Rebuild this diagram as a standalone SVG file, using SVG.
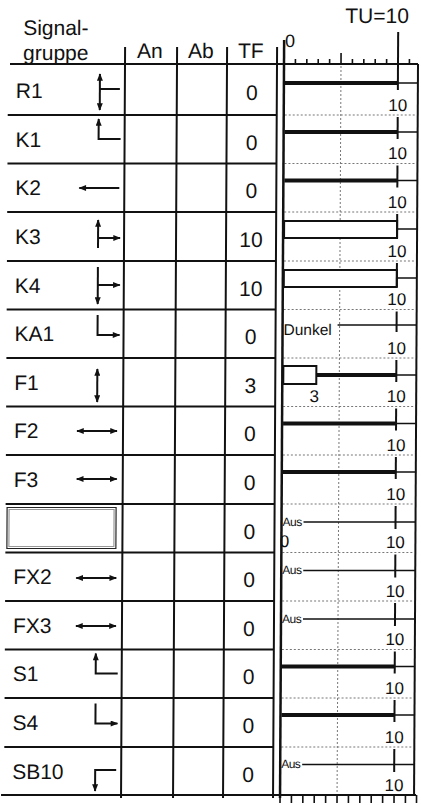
<svg xmlns="http://www.w3.org/2000/svg" width="421" height="805" viewBox="0 0 421 805">
<style>
.t{font-family:"Liberation Sans",Arial,sans-serif;fill:#111}
.lbl{font-size:21px}
.tf{font-size:21px;text-anchor:middle}
.num{font-size:17px;text-anchor:middle}
.aus{font-size:12px;letter-spacing:-0.5px}
.grid{stroke:#111;stroke-width:2;fill:none}
.dot{stroke:#777;stroke-width:1;stroke-dasharray:2 2;fill:none}
.thick{stroke:#111;stroke-width:4}
.thin{stroke:#111;stroke-width:1.6}
.ic{stroke:#111;stroke-width:2;fill:none}
.box{stroke:#111;stroke-width:2;fill:#fff}
</style>
<defs>
<marker id="ah" viewBox="0 0 10 8" refX="9" refY="4" markerWidth="9" markerHeight="6" orient="auto-start-reverse" markerUnits="userSpaceOnUse"><path d="M0,0 L10,4 L0,8 z" fill="#111"/></marker>
</defs>
<g transform="translate(0.35 0) skewX(-0.31)">
<g id="header">
<text class="t lbl" x="23" y="35">Signal-</text>
<text class="t lbl" x="23" y="60">gruppe</text>
<text class="t lbl" x="137" y="58">An</text>
<text class="t lbl" x="188" y="58">Ab</text>
<text class="t lbl" x="238" y="58">TF</text>
<text class="t lbl" x="345" y="23">TU=10</text>
<text class="t" x="290" y="47" font-size="18" text-anchor="middle">0</text>
</g>
<g id="grid">
<path class="dot" d="M341,66 V795 M285,115 H417 M285,163.5 H417 M285,212 H417 M285,261 H417 M285,309.5 H417 M285,358 H417 M285,406.5 H417 M285,455 H417 M285,504 H417 M285,552.5 H417 M285,601 H417 M285,649.5 H417 M285,698 H417 M285,747 H417"/>
<path class="grid" d="M10,64 H418 M8,115 H277 M8,163.5 H277 M8,212 H277 M8,261 H277 M8,309.5 H277 M8,358 H277 M8,406.5 H277 M8,455 H277 M8,504 H277 M8,552.5 H277 M8,601 H277 M8,649.5 H277 M8,698 H277 M8,747 H277 M5,795 H420"/>
<path class="grid" d="M125,47 V798 M177,47 V798 M227,47 V798 M277,47 V798"/>
<path stroke="#111" stroke-width="2.5" d="M284,40 V798"/>
<path class="grid" d="M418,64 V795"/>
<path stroke="#111" stroke-width="1.6" d="M295.4,59 V64 M306.8,59 V64 M318.2,59 V64 M329.6,59 V64 M341,53 V64 M352.4,59 V64 M363.8,59 V64 M375.2,59 V64 M386.6,59 V64 M409.4,59 V64"/>
<path stroke="#111" stroke-width="1.6" d="M284,795 V803 M295.4,795 V803 M306.8,795 V803 M318.2,795 V803 M329.6,795 V803 M341,795 V803 M352.4,795 V803 M363.8,795 V803 M375.2,795 V803 M386.6,795 V803 M398,795 V803 M409.4,795 V803 M420.5,795 V803"/>
</g>
<g id="R1">
<text class="t lbl" x="16" y="98">R1</text>
<path class="ic" d="M100,74 V110" marker-start="url(#ah)" marker-end="url(#ah)"/>
<path class="ic" d="M100,89 H120"/>
<text class="t tf" x="252" y="100">0</text>
<path class="thick" d="M285,83 H398"/><path class="thin" d="M398,83 H418"/>
<path class="grid" d="M398,32 V90"/>
<text class="t num" x="398" y="111">10</text>
</g>
<g id="K1">
<text class="t lbl" x="16" y="147">K1</text>
<path class="ic" d="M121,139 H99 V119" marker-end="url(#ah)"/>
<text class="t tf" x="252" y="150">0</text>
<path class="thick" d="M285,132 H398"/><path class="thin" d="M398,132 H418"/>
<path class="grid" d="M398,117 V139"/>
<text class="t num" x="398" y="159.5">10</text>
</g>
<g id="K2">
<text class="t lbl" x="16" y="195.5">K2</text>
<path class="ic" d="M120,188 H80" marker-end="url(#ah)"/>
<text class="t tf" x="252" y="198.5">0</text>
<path class="thick" d="M285,180.5 H398"/><path class="thin" d="M398,180.5 H418"/>
<path class="grid" d="M398,165.5 V187.5"/>
<text class="t num" x="398" y="208">10</text>
</g>
<g id="K3">
<text class="t lbl" x="16" y="244">K3</text>
<path class="ic" d="M99,248 V220" marker-end="url(#ah)"/>
<path class="ic" d="M99,238 H121" marker-end="url(#ah)"/>
<text class="t tf" x="252" y="247">10</text>
<rect class="box" x="285" y="221" width="113" height="17"/>
<path class="thin" d="M398,229 H418"/>
<path class="grid" d="M398,214 V238"/>
<text class="t num" x="398" y="257">10</text>
</g>
<g id="K4">
<text class="t lbl" x="16" y="293">K4</text>
<path class="ic" d="M99,267 V304" marker-end="url(#ah)"/>
<path class="ic" d="M99,285 H121" marker-end="url(#ah)"/>
<text class="t tf" x="252" y="296">10</text>
<rect class="box" x="285" y="270" width="113" height="17"/>
<path class="thin" d="M398,278 H418"/>
<path class="grid" d="M398,263 V287"/>
<text class="t num" x="398" y="305.5">10</text>
</g>
<g id="KA1">
<text class="t lbl" x="16" y="341.5">KA1</text>
<path class="ic" d="M99,315 V335 H121" marker-end="url(#ah)"/>
<text class="t tf" x="252" y="344.5">0</text>
<text class="t" x="285" y="335.5" font-size="15.5">Dunkel</text>
<path class="thin" d="M339,325 H418"/>
<path class="grid" d="M398,311.5 V332"/>
<text class="t num" x="398" y="354">10</text>
</g>
<g id="F1">
<text class="t lbl" x="16" y="390">F1</text>
<path class="ic" d="M99,369 V402" marker-start="url(#ah)" marker-end="url(#ah)"/>
<text class="t tf" x="252" y="393">3</text>
<rect class="box" x="285" y="366" width="33" height="18"/>
<path class="thick" d="M318,375 H398"/><path class="thin" d="M398,375 H418"/>
<path class="grid" d="M398,360 V382"/>
<text class="t num" x="316" y="402">3</text>
<text class="t num" x="398" y="402.5">10</text>
</g>
<g id="F2">
<text class="t lbl" x="16" y="438.5">F2</text>
<path class="ic" d="M79,431 H119" marker-start="url(#ah)" marker-end="url(#ah)"/>
<text class="t tf" x="252" y="441.5">0</text>
<path class="thick" d="M285,423.5 H398"/><path class="thin" d="M398,423.5 H418"/>
<path class="grid" d="M398,408.5 V430.5"/>
<text class="t num" x="398" y="451">10</text>
</g>
<g id="F3">
<text class="t lbl" x="16" y="487">F3</text>
<path class="ic" d="M79,479 H119" marker-start="url(#ah)" marker-end="url(#ah)"/>
<text class="t tf" x="252" y="490">0</text>
<path class="thick" d="M285,472 H398"/><path class="thin" d="M398,472 H418"/>
<path class="grid" d="M398,457 V479"/>
<text class="t num" x="398" y="500">10</text>
</g>
<g id="empty">
<rect x="9.5" y="507.5" width="109" height="41" fill="#fff" stroke="#222" stroke-width="1.2"/>
<rect x="11.5" y="509.5" width="105" height="37" fill="none" stroke="#999" stroke-width="1.2"/>
<text class="t tf" x="252" y="539">0</text>
<text class="t aus" x="285" y="526">Aus</text>
<path class="thin" d="M306,522 H418"/>
<path class="grid" d="M398,506 V529"/>
<text class="t" x="287" y="547" font-size="17" text-anchor="middle">0</text>
<text class="t num" x="398" y="548.5">10</text>
</g>
<g id="FX2">
<text class="t lbl" x="16" y="584.5">FX2</text>
<path class="ic" d="M79,578 H119" marker-start="url(#ah)" marker-end="url(#ah)"/>
<text class="t tf" x="252" y="587.5">0</text>
<text class="t aus" x="285" y="574.5">Aus</text>
<path class="thin" d="M306,570.5 H418"/>
<path class="grid" d="M398,554.5 V577.5"/>
<text class="t num" x="398" y="597">10</text>
</g>
<g id="FX3">
<text class="t lbl" x="16" y="633">FX3</text>
<path class="ic" d="M79,626 H119" marker-start="url(#ah)" marker-end="url(#ah)"/>
<text class="t tf" x="252" y="636">0</text>
<text class="t aus" x="285" y="623">Aus</text>
<path class="thin" d="M306,619 H418"/>
<path class="grid" d="M398,603 V626"/>
<text class="t num" x="398" y="645.5">10</text>
</g>
<g id="S1">
<text class="t lbl" x="16" y="681.5">S1</text>
<path class="ic" d="M121,673.5 H99 V653.5" marker-end="url(#ah)"/>
<text class="t tf" x="252" y="684.5">0</text>
<path class="thick" d="M285,666.5 H398"/><path class="thin" d="M398,666.5 H418"/>
<path class="grid" d="M398,651.5 V673.5"/>
<text class="t num" x="398" y="694">10</text>
</g>
<g id="S4">
<text class="t lbl" x="16" y="730">S4</text>
<path class="ic" d="M99,703.5 V723.5 H121" marker-end="url(#ah)"/>
<text class="t tf" x="252" y="733">0</text>
<path class="thick" d="M285,715 H398"/><path class="thin" d="M398,715 H418"/>
<path class="grid" d="M398,700 V722"/>
<text class="t num" x="398" y="743">10</text>
</g>
<g id="SB10">
<text class="t lbl" x="16" y="779">SB10</text>
<path class="ic" d="M120,770 H99 V791" marker-end="url(#ah)"/>
<text class="t tf" x="252" y="782">0</text>
<text class="t aus" x="285" y="768.5">Aus</text>
<path class="thin" d="M306,764.5 H418"/>
<path class="grid" d="M398,749 V772"/>
<text class="t num" x="398" y="791">10</text>
</g>
</g>
</svg>
